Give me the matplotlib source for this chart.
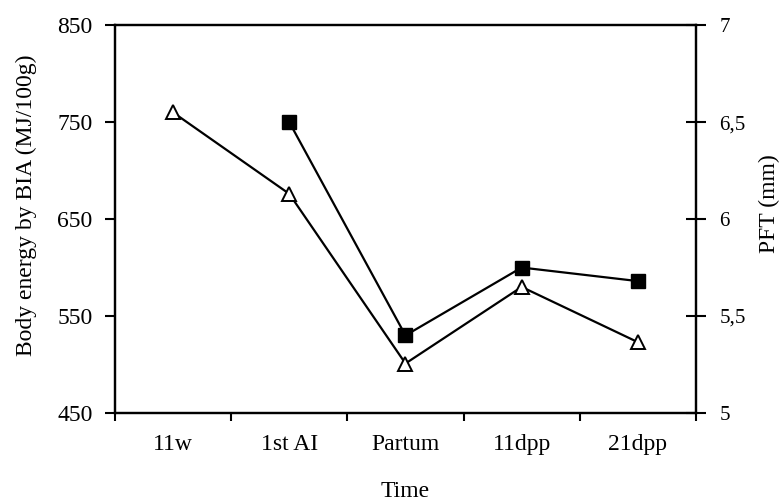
import matplotlib
matplotlib.use("Agg")
import matplotlib.pyplot as plt
import numpy as np
from matplotlib.ticker import FuncFormatter

plt.rcParams['font.family'] = ['Liberation Serif', 'DejaVu Serif']

categories = ["11w", "1st AI", "Partum", "11dpp", "21dpp"]
bia_energy = [np.nan, 750, 530, 600, 586]          # filled squares, left axis
pft_mm = [6.55, 6.13, 5.255, 5.65, 5.365]          # open triangles, right axis

left_ticks = [450, 550, 650, 750, 850]
right_ticks = [5, 5.5, 6, 6.5, 7]

FS = 17

fig = plt.figure(figsize=(7.82, 5.03), dpi=100)
ax = fig.add_axes([0.147, 0.179, 0.743, 0.771])
ax2 = ax.twinx()

x = np.arange(len(categories))
ax.plot(x, bia_energy, color='black', lw=1.6, marker='s', markersize=9.5,
        markerfacecolor='black', markeredgecolor='black', zorder=3)
ax2.plot(x, pft_mm, color='black', lw=1.6, marker='^', markersize=9.5,
         markerfacecolor='white', markeredgecolor='black', markeredgewidth=1.4, zorder=3)

ax.set_xlim(-0.5, len(categories) - 0.5)
ax.set_ylim(450, 850)
ax2.set_ylim(5, 7)
ax.set_yticks(left_ticks)
ax2.set_yticks(right_ticks)
ax2.yaxis.set_major_formatter(FuncFormatter(lambda v, p: (f"{v:g}").replace('.', ',')))

ax.set_xticks(x)
ax.set_xticklabels(categories)
ax.set_xticks(np.arange(len(categories) + 1) - 0.5, minor=True)
ax.tick_params(axis='x', which='major', length=0, pad=15, labelsize=FS)
ax.tick_params(axis='x', which='minor', length=6, width=1.5, direction='out')
ax.tick_params(axis='y', length=7, width=1.5, direction='out', labelsize=FS, pad=9)
ax2.tick_params(axis='y', length=14, width=1.5, direction='inout', labelsize=15, pad=10)

for a in (ax, ax2):
    for s in a.spines.values():
        s.set_linewidth(1.6)

ax.set_xlabel("Time", fontsize=FS, labelpad=19)
ax.set_ylabel("Body energy by BIA (MJ/100g)", fontsize=FS)
ax.yaxis.set_label_coords(-0.134, 0.536)
ax2.set_ylabel("PFT (mm)", fontsize=FS)
ax2.yaxis.set_label_coords(1.109, 0.541)

fig.savefig("out.png", dpi=100)
